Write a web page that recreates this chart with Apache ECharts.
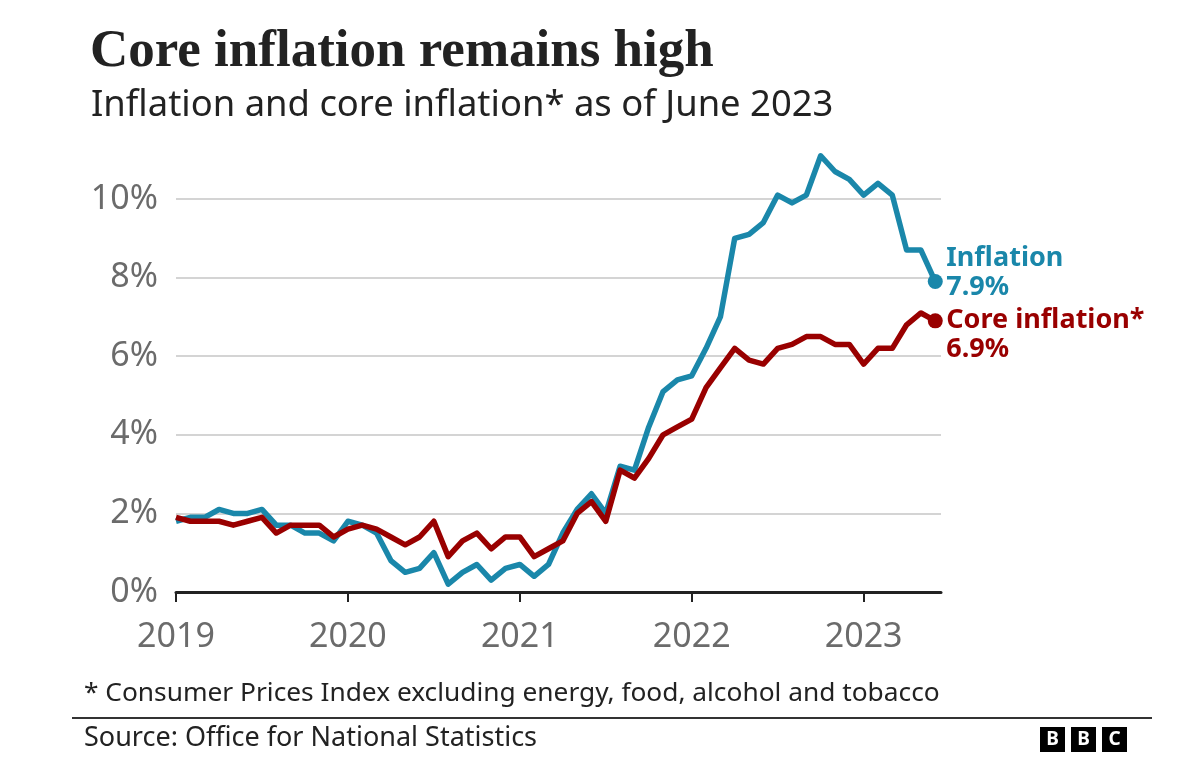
<!DOCTYPE html>
<html>
<head>
<meta charset="utf-8">
<script src="https://cdn.jsdelivr.net/npm/echarts@6/dist/echarts.min.js"></script>
<style>html,body{margin:0;padding:0;background:#fff}#c{width:1199px;height:768px}</style>
</head>
<body>
<div id="c"></div>
<script>
// Monthly, Jan 2019 .. Jun 2023
var yearLabels = ['2019', '2020', '2021', '2022', '2023'];
var yTicks = [0, 2, 4, 6, 8, 10];
var inflation = [
  1.8, 1.9, 1.9, 2.1, 2.0, 2.0, 2.1, 1.7, 1.7, 1.5, 1.5, 1.3,
  1.8, 1.7, 1.5, 0.8, 0.5, 0.6, 1.0, 0.2, 0.5, 0.7, 0.3, 0.6,
  0.7, 0.4, 0.7, 1.5, 2.1, 2.5, 2.0, 3.2, 3.1, 4.2, 5.1, 5.4,
  5.5, 6.2, 7.0, 9.0, 9.1, 9.4, 10.1, 9.9, 10.1, 11.1, 10.7, 10.5,
  10.1, 10.4, 10.1, 8.7, 8.7, 7.9
];
var coreInflation = [
  1.9, 1.8, 1.8, 1.8, 1.7, 1.8, 1.9, 1.5, 1.7, 1.7, 1.7, 1.4,
  1.6, 1.7, 1.6, 1.4, 1.2, 1.4, 1.8, 0.9, 1.3, 1.5, 1.1, 1.4,
  1.4, 0.9, 1.1, 1.3, 2.0, 2.3, 1.8, 3.1, 2.9, 3.4, 4.0, 4.2,
  4.4, 5.2, 5.7, 6.2, 5.9, 5.8, 6.2, 6.3, 6.5, 6.5, 6.3, 6.3,
  5.8, 6.2, 6.2, 6.8, 7.1, 6.9
];
var seriesNames = ['Inflation', 'Core inflation*'];
var colors = ['#1a87aa', '#990000'];

function toPairs(arr) { return arr.map(function (v, i) { return [i, v]; }); }
var last = inflation.length - 1;

var chart = echarts.init(document.getElementById('c'), null, {renderer: 'canvas'});
var sans = '"Noto Sans", "Open Sans", sans-serif';

function endSeries(name, data, color, offset) {
  return {
    name: name,
    type: 'line',
    data: toPairs(data),
    clip: false,
    showSymbol: true,
    symbol: 'circle',
    symbolSize: function (v, p) { return p.dataIndex === last ? 15 : 0; },
    lineStyle: {color: color, width: 5.5, join: 'round'},
    itemStyle: {color: color},
    emphasis: {disabled: true},
    animation: false,
    endLabel: {
      show: true,
      offset: offset,
      formatter: function (p) { return name + '\n' + p.value[1].toFixed(1) + '%'; },
      color: color,
      fontFamily: sans,
      fontWeight: 'bold',
      fontSize: 27,
      lineHeight: 29,
      distance: 11
    }
  };
}

chart.setOption({
  backgroundColor: '#fff',
  animation: false,
  title: [
    {text: 'Core inflation remains high', left: 85, top: 21,
     textStyle: {fontFamily: '"Liberation Serif", "DejaVu Serif", serif', fontWeight: 'bold', fontSize: 53, color: '#222'}},
    {text: 'Inflation and core inflation* as of June 2023', left: 86, top: 83,
     textStyle: {fontFamily: sans, fontWeight: 'normal', fontSize: 36.4, color: '#222'}}
  ],
  grid: {left: 176, right: 258, top: 199, bottom: 176, containLabel: false},
  xAxis: {
    type: 'value', min: 0, max: 53.4, interval: 12,
    axisLine: {show: true, onZero: false, lineStyle: {color: '#222', width: 3}},
    axisTick: {show: true, length: 10, lineStyle: {color: '#222', width: 2}, customValues: [0, 12, 24, 36, 48]},
    axisLabel: {
      customValues: [0, 12, 24, 36, 48],
      formatter: function (v) { return yearLabels[Math.round(v / 12)]; },
      color: '#6b6b6b', fontFamily: sans, fontSize: 34, margin: 28
    },
    splitLine: {show: false}
  },
  yAxis: {
    type: 'value', min: 0, max: 10, interval: 2,
    axisLine: {show: false}, axisTick: {show: false},
    axisLabel: {
      formatter: function (v) { return v + '%'; },
      color: '#6b6b6b', fontFamily: sans, fontSize: 34, margin: 18
    },
    splitLine: {show: true, lineStyle: {color: '#d4d4d4', width: 2}}
  },
  series: [
    endSeries(seriesNames[0], inflation, colors[0], [0, -9]),
    endSeries(seriesNames[1], coreInflation, colors[1], [0, 14])
  ],
  graphic: [
    {type: 'text', left: 84, top: 681,
     style: {text: '* Consumer Prices Index excluding energy, food, alcohol and tobacco', fill: '#222', font: '26.3px "Noto Sans", "Open Sans", sans-serif'}},
    {type: 'rect', shape: {x: 72, y: 717, width: 1080, height: 2}, style: {fill: '#333'}},
    {type: 'text', left: 84, top: 725,
     style: {text: 'Source: Office for National Statistics', fill: '#222', font: '27px "Noto Sans", "Open Sans", sans-serif'}},
    {type: 'rect', shape: {x: 1040, y: 727, width: 25, height: 25}, style: {fill: '#000'}},
    {type: 'rect', shape: {x: 1071, y: 727, width: 25, height: 25}, style: {fill: '#000'}},
    {type: 'rect', shape: {x: 1102, y: 727, width: 25, height: 25}, style: {fill: '#000'}},
    {type: 'text', x: 1052.5, y: 739.5, style: {text: 'B', fill: '#fff', font: 'bold 19px "Noto Sans", sans-serif', align: 'center', verticalAlign: 'middle'}},
    {type: 'text', x: 1083.5, y: 739.5, style: {text: 'B', fill: '#fff', font: 'bold 19px "Noto Sans", sans-serif', align: 'center', verticalAlign: 'middle'}},
    {type: 'text', x: 1114.5, y: 739.5, style: {text: 'C', fill: '#fff', font: 'bold 19px "Noto Sans", sans-serif', align: 'center', verticalAlign: 'middle'}}
  ]
});
</script>
</body>
</html>
